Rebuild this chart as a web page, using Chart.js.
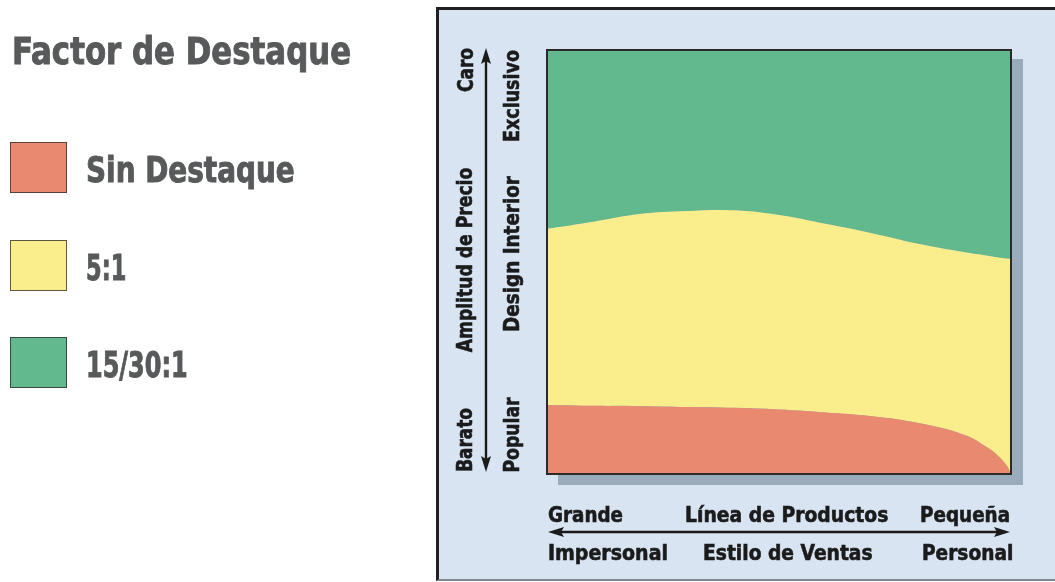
<!DOCTYPE html>
<html lang="es">
<head>
<meta charset="utf-8">
<script src="https://cdn.jsdelivr.net/npm/chart.js@4.4.1/dist/chart.umd.min.js"></script>
<style>
  html, body { margin: 0; padding: 0; background: #ffffff; overflow: hidden; }
  body { width: 1055px; height: 582px; position: relative; }
  #frame { position: absolute; left: 436px; top: 7px; width: 700px; height: 574px; box-sizing: border-box;
           background: #d9e4f2; border: 3px solid #231f20; border-bottom: 2px solid #7f8a95; }
  #wrap { position: absolute; left: 0; top: 0; width: 1055px; height: 582px; }
  .t { position: absolute; white-space: nowrap; line-height: 1; font-weight: bold;
       font-family: "Liberation Sans Narrow", "Arial Narrow", "DejaVu Sans Condensed", "DejaVu Sans", sans-serif;
       font-stretch: condensed; -webkit-text-stroke: 0.6px currentColor; }
  .box { position: absolute; width: 57px; height: 51px; box-sizing: border-box; border: 1.5px solid rgba(40,40,40,0.75); }
</style>
</head>
<body>
<div id="frame"></div>
<div id="wrap"><canvas id="c" width="1055" height="582"></canvas></div>
<div id="labels"></div>
<script>
// ---- data ----
const xPositions   = [0, 10, 20, 30, 40, 50, 60, 70, 80, 90, 95, 97, 99, 100];   // Línea de Productos: Grande -> Pequeña
const sinDestaque  = [16.3, 16.1, 16.0, 15.8, 15.6, 15.2, 14.5, 13.6, 12.0, 9.2, 6.2, 4.5, 2.1, 0];   // top of red band
const cincoAUno    = [57.8, 59.5, 61.3, 62.0, 62.2, 61.1, 59.0, 56.8, 54.3, 52.3, 51.5, 51.1, 50.8, 50.7]; // top of yellow band
const quinceTreinta = [100, 100, 100, 100, 100, 100, 100, 100, 100, 100, 100, 100, 100, 100];      // top of green band
const seriesNames  = ["Sin Destaque", "5:1", "15/30:1"];
const seriesColors = ["#e9896f", "#f9ed8c", "#62b98e"];
const legendTitle  = "Factor de Destaque";
const yLabelsOuter = ["Barato", "Amplitud de Precio", "Caro"];
const yLabelsInner = ["Popular", "Design Interior", "Exclusivo"];
const xLabelsTop   = ["Grande", "Línea de Productos", "Pequeña"];
const xLabelsBottom = ["Impersonal", "Estilo de Ventas", "Personal"];

function pts(ys) { return xPositions.map((x, i) => ({ x: x, y: ys[i] })); }

const decor = {
  id: 'decor',
  beforeDatasetsDraw(chart) {
    const { ctx, chartArea: a } = chart;
    ctx.save();
    ctx.fillStyle = '#9aabbc';
    ctx.fillRect(a.left + 11, a.top + 9, a.right - a.left + 1, a.bottom - a.top + 2);
    ctx.restore();
  },
  afterDatasetsDraw(chart) {
    const { ctx, chartArea: a } = chart;
    ctx.save();
    ctx.strokeStyle = '#2a2a2a';
    ctx.lineWidth = 2;
    ctx.strokeRect(a.left, a.top, a.right - a.left, a.bottom - a.top);
    ctx.fillStyle = '#1a1a1a';
    ctx.strokeStyle = '#1a1a1a';
    ctx.lineWidth = 2.4;
    // vertical double arrow (price range)
    const vx = a.left - 61, vt = a.top - 2, vb = a.bottom - 2;
    ctx.beginPath(); ctx.moveTo(vx, vt + 10); ctx.lineTo(vx, vb - 10); ctx.stroke();
    ctx.beginPath(); ctx.moveTo(vx, vt); ctx.lineTo(vx - 5, vt + 16); ctx.lineTo(vx, vt + 13); ctx.lineTo(vx + 5, vt + 16); ctx.closePath(); ctx.fill();
    ctx.beginPath(); ctx.moveTo(vx, vb); ctx.lineTo(vx - 5, vb - 16); ctx.lineTo(vx, vb - 13); ctx.lineTo(vx + 5, vb - 16); ctx.closePath(); ctx.fill();
    // horizontal double arrow (product line / selling style)
    const hy = a.bottom + 58, hl = a.left + 1, hr = a.right - 1;
    ctx.beginPath(); ctx.moveTo(hl + 10, hy); ctx.lineTo(hr - 10, hy); ctx.stroke();
    ctx.beginPath(); ctx.moveTo(hl, hy); ctx.lineTo(hl + 16, hy - 5); ctx.lineTo(hl + 13, hy); ctx.lineTo(hl + 16, hy + 5); ctx.closePath(); ctx.fill();
    ctx.beginPath(); ctx.moveTo(hr, hy); ctx.lineTo(hr - 16, hy - 5); ctx.lineTo(hr - 13, hy); ctx.lineTo(hr - 16, hy + 5); ctx.closePath(); ctx.fill();
    ctx.restore();
  }
};

const ds = (i, data, fill) => ({
  label: seriesNames[i], data: pts(data), fill: fill,
  backgroundColor: seriesColors[i], borderWidth: 0, pointRadius: 0,
  tension: 0.4
});

new Chart(document.getElementById('c'), {
  type: 'line',
  data: { datasets: [ ds(0, sinDestaque, 'origin'), ds(1, cincoAUno, '-1'), ds(2, quinceTreinta, '-1') ] },
  options: {
    responsive: false, animation: false, devicePixelRatio: 1,
    layout: { padding: { left: 547, top: 50, right: 44, bottom: 108 } },
    scales: {
      x: { type: 'linear', min: 0, max: 100, display: false },
      y: { type: 'linear', min: 0, max: 100, display: false }
    },
    plugins: { legend: { display: false }, tooltip: { enabled: false } }
  },
  plugins: [decor]
});

// ---- text (real HTML text) ----
const host = document.getElementById('labels');
function place(text, o) {
  const s = document.createElement('span');
  s.className = 't';
  s.textContent = text;
  s.style.fontSize = o.fs + 'px';
  s.style.color = o.color || '#1b1b1b';
  if (o.stroke !== undefined) s.style.webkitTextStroke = o.stroke + 'px currentColor';
  host.appendChild(s);
  const w = s.offsetWidth, h = o.fs;
  const sc = o.w ? o.w / w : 1;
  if (o.rot) {
    s.style.left = (o.cx - w / 2) + 'px';
    s.style.top = (o.cy - h / 2) + 'px';
    s.style.transformOrigin = '50% 50%';
    s.style.transform = 'rotate(-90deg) scaleX(' + sc + ')';
  } else {
    let left;
    if (o.left !== undefined) left = o.left;
    else if (o.right !== undefined) left = o.right - w * sc;
    else left = o.center - w * sc / 2;
    s.style.left = left + 'px';
    s.style.top = (o.cy - h / 2) + 'px';
    s.style.transformOrigin = '0 50%';
    s.style.transform = 'scaleX(' + sc + ')';
  }
}

// legend
place(legendTitle, { fs: 37, left: 12, w: 339, cy: 51.5, color: '#58595b', stroke: 0.9 });
const legendY = [142, 240, 337];
const legendW = [209, 40, 102];
seriesNames.forEach((n, i) => {
  const b = document.createElement('div');
  b.className = 'box';
  b.style.left = '10px'; b.style.top = legendY[i] + 'px';
  b.style.background = seriesColors[i];
  host.appendChild(b);
  place(n, { fs: 35, left: 86, w: legendW[i], cy: legendY[i] + 28, color: '#58595b', stroke: 0.9 });
});

// vertical labels
place(yLabelsOuter[2], { fs: 22, rot: true, cx: 465, cy: 70, w: 44 });
place(yLabelsOuter[1], { fs: 22, rot: true, cx: 465, cy: 259.5, w: 185 });
place(yLabelsOuter[0], { fs: 22, rot: true, cx: 465, cy: 440, w: 64 });
place(yLabelsInner[2], { fs: 22, rot: true, cx: 511.5, cy: 96, w: 92 });
place(yLabelsInner[1], { fs: 22, rot: true, cx: 511.5, cy: 254, w: 156 });
place(yLabelsInner[0], { fs: 22, rot: true, cx: 511.5, cy: 434.5, w: 75 });

// horizontal labels
place(xLabelsTop[0], { fs: 22, left: 548, w: 75, cy: 515 });
place(xLabelsTop[1], { fs: 22, center: 786.5, w: 203, cy: 515 });
place(xLabelsTop[2], { fs: 22, right: 1010, w: 90, cy: 515 });
place(xLabelsBottom[0], { fs: 22, left: 548, w: 120, cy: 552.5 });
place(xLabelsBottom[1], { fs: 22, center: 788, w: 170, cy: 552.5 });
place(xLabelsBottom[2], { fs: 22, right: 1013, w: 91, cy: 552.5 });
</script>
</body>
</html>
